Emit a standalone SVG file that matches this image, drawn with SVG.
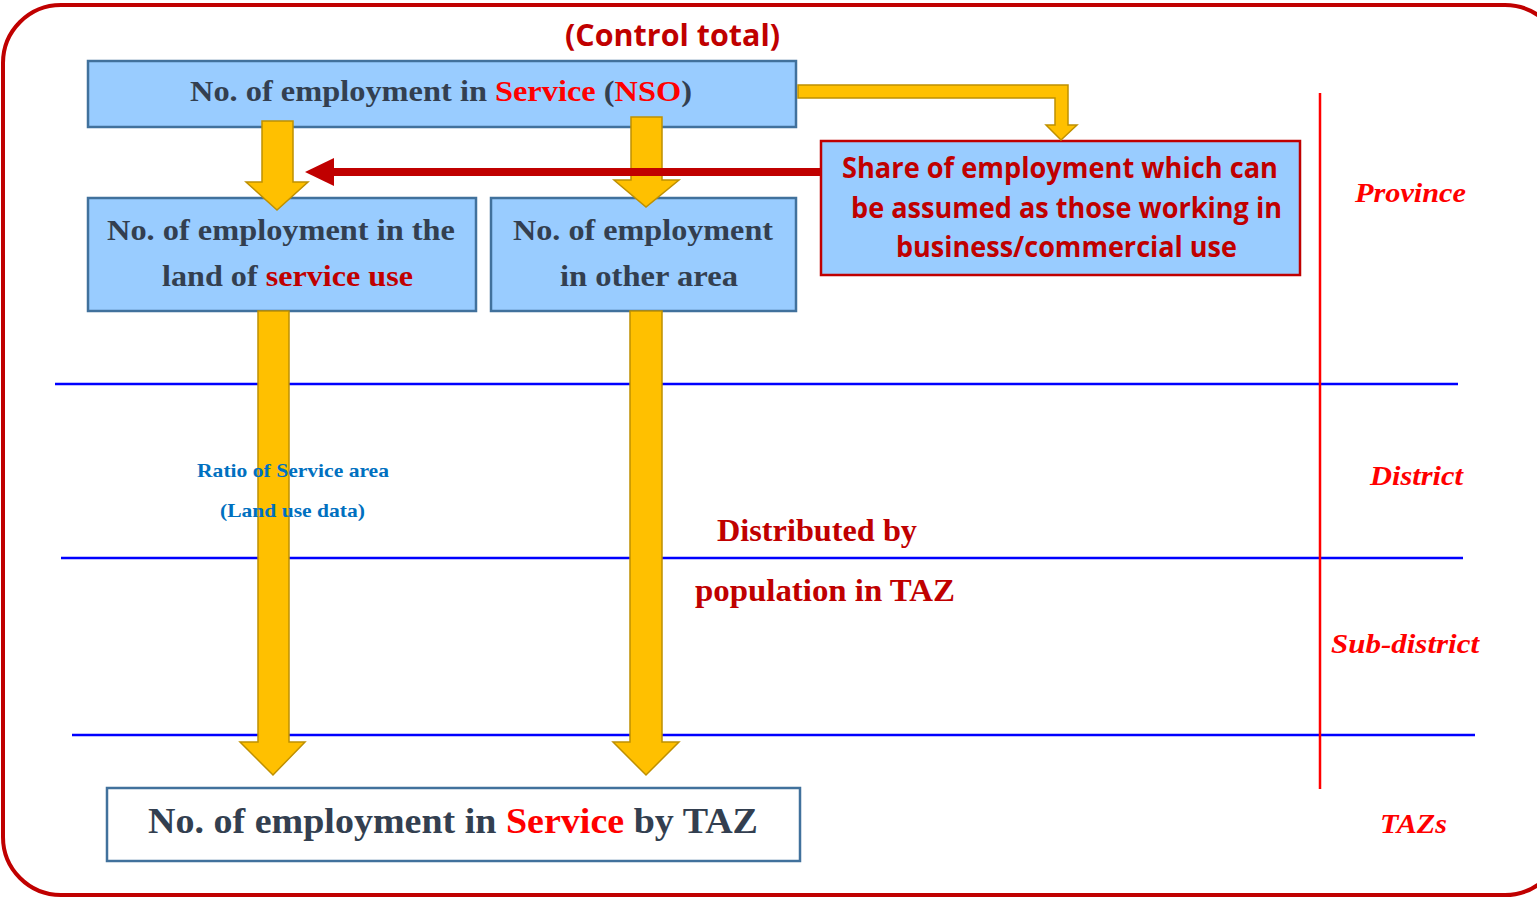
<svg xmlns="http://www.w3.org/2000/svg" width="1537" height="898" viewBox="0 0 1537 898">
<style>
.box{fill:#99CCFF;stroke:#41719C;stroke-width:2.5}
.ser{font-family:"Liberation Serif","Times New Roman",serif;font-weight:bold}
.dark{fill:#333F50}
.red{fill:#FF0000}
.dred{fill:#C00000}
.sans{font-family:"Open Sans","Liberation Sans",sans-serif;font-weight:bold}
.lvl{font-family:"Liberation Serif","Times New Roman",serif;font-weight:bold;font-style:italic;font-size:28px;fill:#FF0000}
.yarr{fill:#FFC000;stroke:#BF9000;stroke-width:1.5}
.blue{stroke:#0000FF;stroke-width:2.5}
</style>
<rect width="1537" height="898" fill="#FFFFFF"/>
<rect x="3" y="5" width="1560" height="890" rx="58" ry="58" fill="none" stroke="#C00000" stroke-width="4"/>
<g id="levels">
<line class="blue" x1="55" y1="384" x2="1458" y2="384"/>
<line class="blue" x1="61" y1="558" x2="1463" y2="558"/>
<line class="blue" x1="72" y1="735" x2="1475" y2="735"/>
<line x1="1320" y1="93" x2="1320" y2="789" stroke="#FF0000" stroke-width="2.5"/>
<text class="lvl" x="1355" y="202" textLength="111" lengthAdjust="spacingAndGlyphs">Province</text>
<text class="lvl" x="1370" y="485" textLength="93" lengthAdjust="spacingAndGlyphs">District</text>
<text class="lvl" x="1331" y="653" textLength="148" lengthAdjust="spacingAndGlyphs">Sub-district</text>
<text class="lvl" x="1380" y="833" textLength="67" lengthAdjust="spacingAndGlyphs">TAZs</text>
</g>
<g id="control-total">
<text class="sans dred" x="565" y="46" font-size="30" textLength="215" lengthAdjust="spacingAndGlyphs">(Control total)</text>
</g>
<g id="node-nso">
<rect class="box" x="88" y="61" width="708" height="66"/>
<text class="ser dark" x="190" y="101" font-size="30" textLength="502" lengthAdjust="spacingAndGlyphs">No. of employment in <tspan class="red">Service</tspan> (<tspan class="red">NSO</tspan>)</text>
</g>
<g id="node-service-land">
<rect class="box" x="88" y="198" width="388" height="113"/>
<text class="ser dark" x="107" y="240" font-size="29" textLength="348" lengthAdjust="spacingAndGlyphs">No. of employment in the</text>
<text class="ser dark" x="162" y="286" font-size="29" textLength="251" lengthAdjust="spacingAndGlyphs">land of <tspan class="dred">service use</tspan></text>
</g>
<g id="node-other-area">
<rect class="box" x="491" y="198" width="305" height="113"/>
<text class="ser dark" x="513" y="240" font-size="29" textLength="260" lengthAdjust="spacingAndGlyphs">No. of employment</text>
<text class="ser dark" x="560" y="286" font-size="29" textLength="178" lengthAdjust="spacingAndGlyphs">in other area</text>
</g>
<g id="node-share">
<rect x="821" y="141" width="479" height="134" fill="#99CCFF" stroke="#C00000" stroke-width="2.5"/>
<text class="sans dred" x="842" y="178" font-size="29" textLength="436" lengthAdjust="spacingAndGlyphs">Share of employment which can</text>
<text class="sans dred" x="851" y="218" font-size="29" textLength="431" lengthAdjust="spacingAndGlyphs">be assumed as those working in</text>
<text class="sans dred" x="896" y="257" font-size="29" textLength="341" lengthAdjust="spacingAndGlyphs">business/commercial use</text>
</g>
<g id="node-taz">
<rect x="107" y="788" width="693" height="73" fill="#FFFFFF" stroke="#41719C" stroke-width="2.5"/>
<text class="ser dark" x="148" y="833" font-size="36" textLength="610" lengthAdjust="spacingAndGlyphs">No. of employment in <tspan class="red">Service</tspan> by TAZ</text>
</g>
<g id="connectors">
<path class="yarr" d="M262,121 H293 V182 H308 L277,210 L246,182 H262 Z"/>
<path class="yarr" d="M631,117 H662 V180 H679 L646,207 L614,180 H631 Z"/>
<path class="yarr" d="M798,85 H1068 V125 H1077 L1061,140 L1046,125 H1055 V98 H798 Z"/>
<path class="yarr" d="M258,311 H289 V742 H305 L273,775 L240,742 H258 Z"/>
<path class="yarr" d="M630,311 H662 V742 H679 L646,775 L613,742 H630 Z"/>
<line x1="821" y1="172" x2="330" y2="172" stroke="#C00000" stroke-width="8"/>
<path d="M305,172 L334,158 L334,186 Z" fill="#C00000"/>
</g>
<g id="label-ratio">
<text class="ser" fill="#0070C0" x="197" y="477" font-size="19" textLength="192" lengthAdjust="spacingAndGlyphs">Ratio of Service area</text>
<text class="ser" fill="#0070C0" x="220" y="517" font-size="19" textLength="145" lengthAdjust="spacingAndGlyphs">(Land use data)</text>
</g>
<g id="label-distributed">
<text class="ser dred" x="717" y="541" font-size="31" textLength="200" lengthAdjust="spacingAndGlyphs">Distributed by</text>
<text class="ser dred" x="695" y="601" font-size="31" textLength="260" lengthAdjust="spacingAndGlyphs">population in TAZ</text>
</g>
</svg>
